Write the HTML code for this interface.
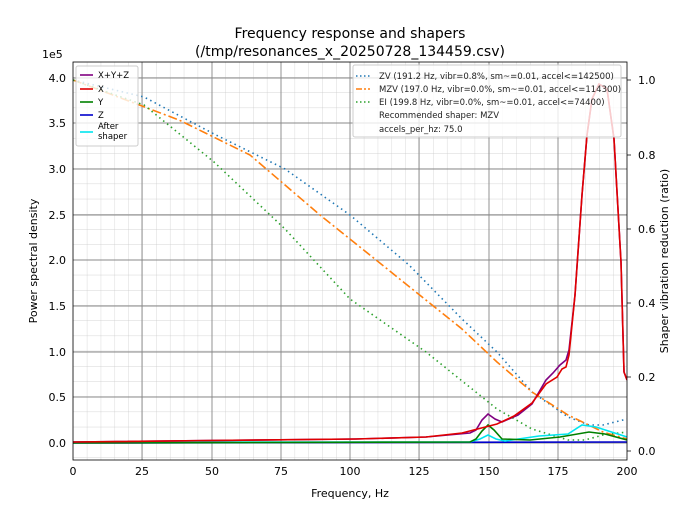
<!DOCTYPE html>
<html><head><style>body{margin:0;background:#fff}svg{font-family:"DejaVu Sans","Liberation Sans",sans-serif}</style></head><body>
<svg width="700" height="525" xmlns="http://www.w3.org/2000/svg">
<defs>
<pattern id="mn" x="73" y="62" width="13.85" height="15.2" patternUnits="userSpaceOnUse"><path d="M0 0V15.2M0 0H13.85" stroke="#c8c8c8" stroke-width="0.7" fill="none"/></pattern>
<clipPath id="c"><rect x="73" y="62" width="554" height="398"/></clipPath>
</defs>
<text x="350" y="38" text-anchor="middle" font-size="14">Frequency response and shapers</text>
<text x="350" y="56" text-anchor="middle" font-size="14">(/tmp/resonances_x_20250728_134459.csv)</text>
<rect x="73" y="62" width="554" height="398" fill="url(#mn)"/>
<g stroke="#888" stroke-width="0.9">
<path d="M142 62V460M212 62V460M281 62V460M350 62V460M419 62V460M489 62V460M558 62V460"/>
<path d="M73 443H627M73 397H627M73 352H627M73 306H627M73 260H627M73 215H627M73 169H627M73 123H627M73 78H627"/>
</g>
<g clip-path="url(#c)" fill="none" stroke-width="1.6">
<polyline stroke="#1f77b4" stroke-dasharray="1.5,3.5" points="73,80 144,97 214,134 285,169 350,215 409,265 462,319 497,352 532,392 568,417 589,425 603,425 627,419"/>
<polyline stroke="#ff7f0e" stroke-dasharray="9,3,2,3" points="73,80 179,120 250,155 320,215 391,272 462,329 497,362 532,392 568,415 603,432 627,439"/>
<polyline stroke="#2ca02c" stroke-dasharray="1.5,3.5" points="73,80 144,105 214,162 285,229 350,299 426,352 497,409 532,429 568,440 585,440 603,435 627,432"/>
<polyline stroke="#0000cc" points="73,443 627,442"/>
<polyline stroke="#00e5ee" points="73,442 470,442 480,439 488,435 496,439 505,441 539,436 568,434 582,425 596,427 627,437"/>
<polyline stroke="#008000" points="73,443 470,442 476,439 482,431 488,425 494,430 502,439 530,440 560,437 589,432 605,434 627,440"/>
<polyline stroke="#800080" points="73,442 356,439 426,437 470,433 476,430 482,420 488,414 495,419 502,422 518,415 532,404 546,380 553,373 560,365 566,360 569,350 575,295 582,195 587,135 592,99 599,84 607,89 614,139 621,262 624,372 627,380"/>
<polyline stroke="#e00000" points="73,442 356,439 426,437 462,433 497,424 514,416 532,403 546,384 557,377 562,369 566,367 569,355 575,295 582,195 587,135 592,99 599,84 607,89 614,139 621,262 624,372 627,380"/>
</g>
<rect x="73" y="62" width="554" height="398" fill="none" stroke="#000" stroke-width="0.8"/>
<g font-size="11" text-anchor="middle">
<text x="73" y="475">0</text><text x="142" y="475">25</text><text x="212" y="475">50</text><text x="281" y="475">75</text><text x="350" y="475">100</text><text x="419" y="475">125</text><text x="489" y="475">150</text><text x="558" y="475">175</text><text x="627" y="475">200</text>
<text x="350" y="497">Frequency, Hz</text>
</g>
<g font-size="11" text-anchor="end">
<text x="66" y="447">0.0</text><text x="66" y="401">0.5</text><text x="66" y="356">1.0</text><text x="66" y="310">1.5</text><text x="66" y="264">2.0</text><text x="66" y="219">2.5</text><text x="66" y="173">3.0</text><text x="66" y="127">3.5</text><text x="66" y="82">4.0</text>
</g>
<text x="42" y="58" font-size="11">1e5</text>
<text transform="translate(37,261) rotate(-90)" font-size="11" text-anchor="middle">Power spectral density</text>
<g font-size="11">
<text x="638" y="455">0.0</text><text x="638" y="381">0.2</text><text x="638" y="307">0.4</text><text x="638" y="233">0.6</text><text x="638" y="159">0.8</text><text x="638" y="84">1.0</text>
</g>
<g stroke="#000" stroke-width="0.8"><path d="M627 451h4M627 377h4M627 303h4M627 229h4M627 155h4M627 80h4"/></g>
<text transform="translate(668,261) rotate(-90)" font-size="11" text-anchor="middle">Shaper vibration reduction (ratio)</text>
<rect x="76" y="66" width="62" height="80" fill="#fff" fill-opacity="0.8" stroke="#ccc" rx="2"/>
<g font-size="8.5" stroke-width="1.6">
<path d="M80 75h13" stroke="#800080"/><text x="98" y="78">X+Y+Z</text>
<path d="M80 89h13" stroke="#e00000"/><text x="98" y="92">X</text>
<path d="M80 102h13" stroke="#008000"/><text x="98" y="105">Y</text>
<path d="M80 115h13" stroke="#0000cc"/><text x="98" y="118">Z</text>
<path d="M80 132h13" stroke="#00e5ee"/><text x="98" y="129">After</text><text x="98" y="139">shaper</text>
</g>
<rect x="353" y="65" width="268" height="72" fill="#fff" fill-opacity="0.8" stroke="#ccc" rx="2"/>
<g font-size="8.5" stroke-width="1.6" fill="#222">
<path d="M356 76h14" stroke="#1f77b4" stroke-dasharray="1.5,2.5"/><text x="379" y="79">ZV (191.2 Hz, vibr=0.8%, sm~=0.01, accel&lt;=142500)</text>
<path d="M356 89h14" stroke="#ff7f0e" stroke-dasharray="6,2,2,2"/><text x="379" y="92">MZV (197.0 Hz, vibr=0.0%, sm~=0.01, accel&lt;=114300)</text>
<path d="M356 102h14" stroke="#2ca02c" stroke-dasharray="1.5,2.5"/><text x="379" y="105">EI (199.8 Hz, vibr=0.0%, sm~=0.01, accel&lt;=74400)</text>
<text x="379" y="118">Recommended shaper: MZV</text>
<text x="379" y="132">accels_per_hz: 75.0</text>
</g>
</svg>
</body></html>
